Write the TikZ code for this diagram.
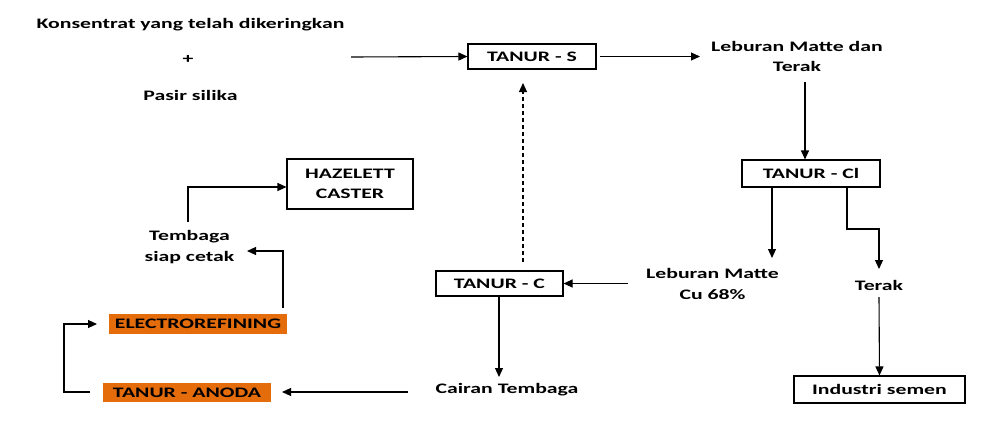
\documentclass[tikz,border=0pt]{standalone}
\usepackage{fontspec}
\setmainfont[FakeStretch=1.5]{Carlito}
\usetikzlibrary{arrows.meta}
\definecolor{ora}{RGB}{228,108,10}
\tikzset{
  lbl/.style={font=\fontsize{14.5}{20.5}\selectfont\bfseries, inner sep=0pt, align=center},
  box/.style={lbl, draw, line width=1.1pt},
  obox/.style={lbl, fill=ora},
  arr/.style={line width=1.1pt, -{Triangle[length=9pt,width=8pt]}},
  ln/.style={line width=1.1pt},
}
\begin{document}
\begin{tikzpicture}[x=1pt,y=-1pt]
\useasboundingbox (0,0) rectangle (1007,426);
% texts
\node[lbl] (kons) at (190.5,25) {Konsentrat yang telah dikeringkan};
\node[lbl] (plus) at (188,59) {+};
\node[lbl] (pasir) at (190.5,95) {Pasir silika};
\node[lbl] (lmt) at (797,56.5) {Leburan Matte dan\\Terak};
\node[lbl] (lm68) at (712.5,284) {Leburan Matte\\Cu 68\%};
\node[lbl] (terak) at (879,285) {Terak};
\node[lbl] (cair) at (507,390) {Cairan Tembaga};
\node[lbl] (tsc) at (189.5,247) {Tembaga\\siap cetak};
% boxes
\node[box, minimum width=128pt, minimum height=25pt] (ts) at (532,56.5) {TANUR - S};
\node[box, minimum width=138pt, minimum height=27pt] (tcl) at (811,173.5) {TANUR - Cl};
\node[box, minimum width=171pt, minimum height=27pt] (ind) at (879.5,389.5) {Industri semen};
\node[box, minimum width=127pt, minimum height=25pt] (tc) at (499.5,283.5) {TANUR - C};
\node[box, minimum width=126pt, minimum height=50pt] (haz) at (350,184) {HAZELETT\\CASTER};
\node[obox, minimum width=168pt, minimum height=19pt] (anoda) at (187,392.5) {TANUR - ANODA};
\node[obox, minimum width=178pt, minimum height=20pt] (elec) at (198,324) {ELECTROREFINING};
% helper coordinates
\coordinate (in0) at (351,57);
\coordinate (a1) at (805,82);
\coordinate (c1) at (772,258);
\coordinate (c2) at (847,229);
\coordinate (c3) at (879,229);
\coordinate (d1) at (523,262);
\coordinate (d2) at (523,83);
\coordinate (e1) at (283,308);
\coordinate (e2) at (283,251);
\coordinate (e3) at (247,251);
\coordinate (g1) at (188,222);
\coordinate (g2) at (188,187);
\coordinate (h1) at (90,392);
\coordinate (h2) at (64,392);
\coordinate (h3) at (64,324);
\coordinate (h4) at (97,324);
% connectors
\draw[arr] (in0) -- (ts.west);
\draw[arr, shorten <=3pt] (ts.east) -- (700,56.5);
\draw[arr] (a1) -- (a1 |- tcl.north);
\draw[arr] (c1 |- tcl.south) -- (c1);
\draw[arr] (c2 |- tcl.south) -- (c2) -- (c3) -- (879,269);
\draw[arr] (879,297) -- (ind.north);
\draw[arr] (628,283.5) -- (tc.east);
\draw[arr, dashed, dash pattern=on 4pt off 3pt] (d1) -- (d2);
\draw[arr] (tc.south -| 499,0) -- (499,377);
\draw[arr] (408,392) -- (282,392);
\draw[ln, -{Triangle[length=9pt,width=8pt]}] (h1) -- (h2) -- (h3) -- (h4);
\draw[arr] (e1) -- (e2) -- (e3);
\draw[arr] (g1) -- (g2) -- (haz.west |- g2);
\end{tikzpicture}
\end{document}
